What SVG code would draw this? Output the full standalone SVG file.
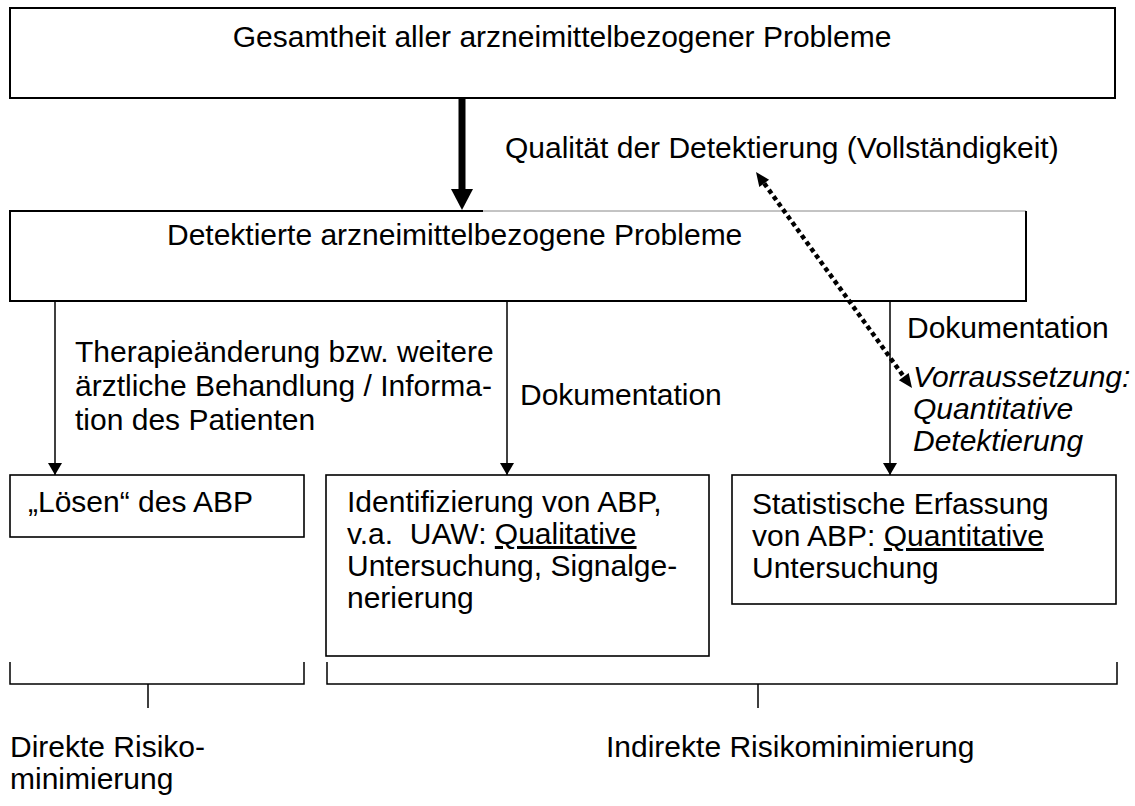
<svg xmlns="http://www.w3.org/2000/svg" width="1135" height="806" viewBox="0 0 1135 806">
<defs>
<style>
text{font-family:"Liberation Sans",Arial,sans-serif;font-size:30px;fill:#000;white-space:pre}
.box{fill:#fff;stroke:#000;stroke-width:1.6}
.thin{stroke:#000;stroke-width:1.5;fill:none}
.it{font-style:italic}
.u{text-decoration:underline}
</style>
<marker id="ah" viewBox="0 0 12 14" refX="12" refY="7" markerWidth="12" markerHeight="14" markerUnits="userSpaceOnUse" orient="auto">
<path d="M0,0 L12,7 L0,14 Z" fill="#000"/>
</marker>
</defs>
<rect width="1135" height="806" fill="#fff"/>

<g id="node-gesamtheit">
<rect class="box" x="10" y="8" width="1105" height="90" style="stroke-width:2"/>
<text x="562" y="47" text-anchor="middle">Gesamtheit aller arzneimittelbezogener Probleme</text>
</g>

<g id="node-detektierte">
<rect x="10" y="211" width="1016" height="90" fill="#fff" stroke="none"/>
<path d="M483,211 H1026" fill="none" stroke="#888" stroke-width="1"/>
<path d="M1026,211 V301 H10 V211 H483" fill="none" stroke="#000" stroke-width="2"/>
<text x="167" y="245">Detektierte arzneimittelbezogene Probleme</text>
</g>

<g id="node-loesen">
<rect class="box" x="10" y="475" width="294" height="62"/>
<text x="28" y="512">„Lösen“ des ABP</text>
</g>

<g id="node-identifizierung">
<rect class="box" x="326" y="475" width="383" height="181"/>
<text x="347" y="512">Identifizierung von ABP,</text>
<text x="347" y="544">v.a.  UAW: <tspan class="u">Qualitative</tspan></text>
<text x="347" y="576">Untersuchung, Signalge-</text>
<text x="347" y="608">nerierung</text>
</g>

<g id="node-statistische">
<rect class="box" x="732" y="475" width="384" height="129"/>
<text x="752" y="514">Statistische Erfassung</text>
<text x="752" y="546">von ABP: <tspan class="u">Quantitative</tspan></text>
<text x="752" y="578">Untersuchung</text>
</g>

<g id="connectors">
<line x1="462" y1="98" x2="462" y2="191" stroke="#000" stroke-width="7"/>
<polygon points="451,189 473,189 462,210" fill="#000"/>
<line class="thin" x1="55" y1="301" x2="55" y2="475" marker-end="url(#ah)"/>
<line class="thin" x1="507" y1="301" x2="507" y2="475" marker-end="url(#ah)"/>
<line class="thin" x1="890" y1="301" x2="890" y2="475" marker-end="url(#ah)"/>
<line x1="764.2" y1="183.4" x2="903.8" y2="376.6" stroke="#000" stroke-width="4.5" stroke-dasharray="4.5 3.5"/>
<polygon points="756,172 759.3,186.9 769.1,179.8" fill="#000"/>
<polygon points="912,388 898.9,380.2 908.7,373.1" fill="#000"/>
<path class="thin" d="M10,662 V684 H304 V662 M148,684 V708"/>
<path class="thin" d="M327,662 V684 H1117 V662 M758,684 V708"/>
</g>

<g id="labels">
<text x="505" y="158">Qualität der Detektierung (Vollständigkeit)</text>
<text x="75" y="362">Therapieänderung bzw. weitere</text>
<text x="75" y="396">ärztliche Behandlung / Informa-</text>
<text x="75" y="430">tion des Patienten</text>
<text x="520" y="405">Dokumentation</text>
<text x="907" y="338">Dokumentation</text>
<text class="it" x="913" y="387">Vorraussetzung:</text>
<text class="it" x="913" y="419">Quantitative</text>
<text class="it" x="913" y="451">Detektierung</text>
<text x="10" y="757">Direkte Risiko-</text>
<text x="10" y="789">minimierung</text>
<text x="606" y="757">Indirekte Risikominimierung</text>
</g>
</svg>
